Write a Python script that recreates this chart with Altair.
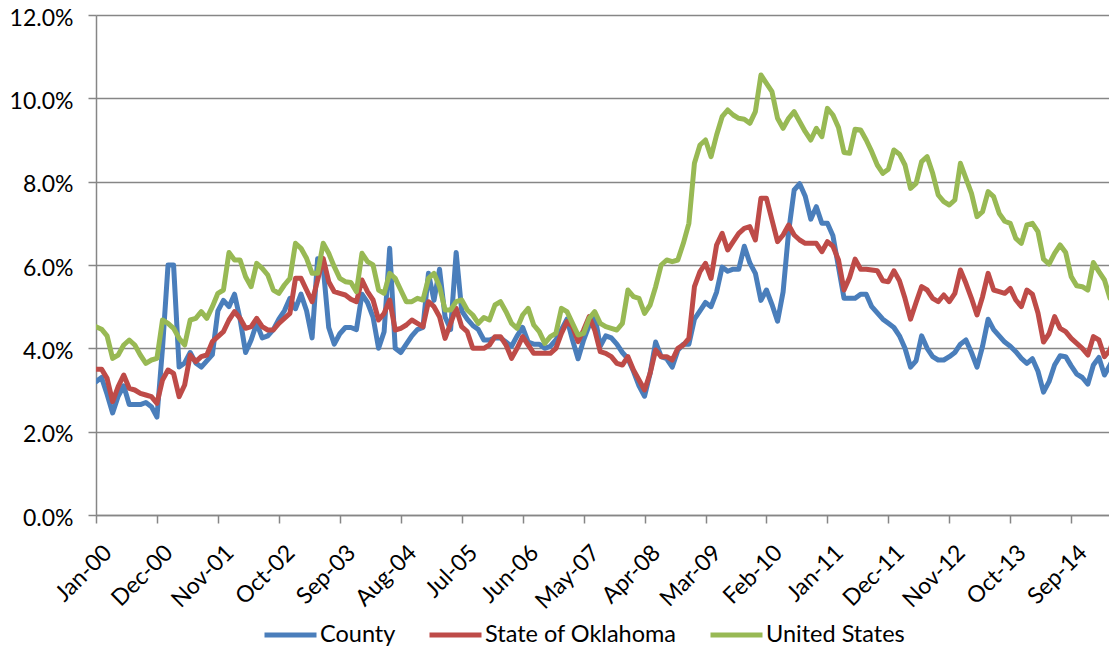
import altair as alt
import pandas as pd

series_names = ["County", "State of Oklahoma", "United States"]
series_colors = ["#4A7EBB", "#BE4B48", "#98B954"]

county = [
    3.2, 3.3, 2.9, 2.45, 2.85, 3.1, 2.65, 2.65, 2.65, 2.7,
    2.6, 2.35, 4.0, 6.0, 6.0, 3.55, 3.65, 3.9, 3.65, 3.55,
    3.7, 3.85, 4.9, 5.15, 5.0, 5.3, 4.7, 3.9, 4.2, 4.6,
    4.25, 4.3, 4.45, 4.7, 4.9, 5.2, 4.95, 5.3, 4.9, 4.25,
    6.15, 5.95, 4.5, 4.1, 4.35, 4.5, 4.5, 4.45, 5.3, 5.1,
    4.75, 4.0, 4.4, 6.4, 4.0, 3.9, 4.1, 4.3, 4.45, 4.5,
    5.8, 5.15, 5.9, 4.75, 4.45, 6.3, 4.9, 4.7, 4.55, 4.45,
    4.2, 4.2, 4.25, 4.25, 4.15, 4.05, 4.3, 4.5, 4.15, 4.1,
    4.1, 4.0, 4.05, 4.2, 4.45, 4.7, 4.2, 3.75, 4.2, 4.55,
    4.8, 4.05, 4.3, 4.25, 4.1, 3.9, 3.75, 3.45, 3.1, 2.85,
    3.4, 4.15, 3.8, 3.75, 3.55, 3.95, 4.1, 4.1, 4.7, 4.9,
    5.1, 5.0, 5.35, 5.95, 5.85, 5.9, 5.9, 6.45, 6.05, 5.8,
    5.15, 5.4, 5.05, 4.65, 5.35, 6.8, 7.8, 7.95, 7.65, 7.1,
    7.4, 7.0, 7.0, 6.7, 5.95, 5.2, 5.2, 5.2, 5.3, 5.3,
    5.0, 4.85, 4.7, 4.6, 4.5, 4.3, 4.0, 3.55, 3.7, 4.3,
    4.0, 3.8, 3.72, 3.72, 3.8, 3.9, 4.1, 4.2, 3.9, 3.55,
    4.05, 4.7, 4.45, 4.3, 4.15, 4.05, 3.92, 3.76, 3.64, 3.75,
    3.45, 2.95, 3.2, 3.6, 3.82, 3.8, 3.58, 3.38, 3.3, 3.14,
    3.6, 3.78, 3.36, 3.6, 3.86,
]

state = [
    3.5, 3.5, 3.28, 2.72, 3.08, 3.36, 3.04, 3.0, 2.92, 2.88,
    2.84, 2.68, 3.24, 3.48, 3.4, 2.84, 3.12, 3.84, 3.68, 3.8,
    3.84, 4.16, 4.28, 4.4, 4.68, 4.88, 4.72, 4.48, 4.52, 4.72,
    4.52, 4.44, 4.44, 4.6, 4.72, 4.84, 5.68, 5.68, 5.4, 5.12,
    5.64, 6.16, 5.6, 5.36, 5.32, 5.28, 5.18, 5.12, 5.64, 5.36,
    5.16, 4.68, 4.84, 5.16, 4.44, 4.48, 4.56, 4.68, 4.6, 4.52,
    5.12, 5.0, 4.76, 4.24, 4.6, 4.96, 4.52, 4.4, 4.0, 4.0,
    4.0, 4.08, 4.28, 4.28, 4.08, 3.76, 4.0, 4.28, 4.08, 3.88,
    3.88, 3.88, 3.88, 4.0, 4.36, 4.64, 4.52, 4.16, 4.44, 4.76,
    4.44, 3.92, 3.88, 3.8, 3.64, 3.6, 3.8, 3.48, 3.24, 3.0,
    3.4, 3.96, 3.8, 3.8, 3.72, 4.0, 4.08, 4.24, 5.48, 5.84,
    6.04, 5.68, 6.48, 6.76, 6.36, 6.56, 6.76, 6.88, 6.92, 6.6,
    7.6, 7.6, 7.08, 6.56, 6.72, 6.96, 6.72, 6.6, 6.52, 6.52,
    6.52, 6.32, 6.56, 6.45, 6.12, 5.4, 5.7, 6.14, 5.9, 5.9,
    5.88, 5.86, 5.62, 5.6, 5.86, 5.62, 5.2, 4.7, 5.1, 5.48,
    5.4, 5.2, 5.12, 5.28, 5.12, 5.32, 5.88, 5.56, 5.2, 4.8,
    5.24, 5.8, 5.4, 5.36, 5.32, 5.44, 5.16, 5.0, 5.4, 5.3,
    4.85, 4.15, 4.35, 4.76, 4.48, 4.4, 4.24, 4.12, 4.0, 3.84,
    4.28, 4.2, 3.8, 3.96, 4.36,
]

united_states = [
    4.52, 4.46, 4.3, 3.76, 3.84, 4.08, 4.2, 4.08, 3.84, 3.64,
    3.72, 3.76, 4.68, 4.6, 4.48, 4.24, 4.08, 4.68, 4.72, 4.88,
    4.72, 5.0, 5.32, 5.4, 6.3, 6.12, 6.12, 5.72, 5.48, 6.04,
    5.92, 5.76, 5.4, 5.32, 5.52, 5.68, 6.52, 6.4, 6.16, 5.8,
    5.8, 6.52, 6.28, 5.96, 5.68, 5.6, 5.58, 5.36, 6.28, 6.08,
    6.0, 5.4, 5.32, 5.8, 5.68, 5.4, 5.12, 5.12, 5.2, 5.16,
    5.68, 5.8, 5.48, 4.92, 4.92, 5.12, 5.16, 4.92, 4.8, 4.6,
    4.74, 4.68, 5.04, 5.12, 4.88, 4.6, 4.48, 4.8, 4.96, 4.56,
    4.4, 4.12, 4.28, 4.36, 4.96, 4.88, 4.6, 4.32, 4.36, 4.72,
    4.88, 4.6, 4.52, 4.48, 4.44, 4.6, 5.4, 5.24, 5.2, 4.84,
    5.04, 5.48, 6.0, 6.12, 6.08, 6.12, 6.52, 7.0, 8.44, 8.88,
    9.0, 8.6, 9.12, 9.56, 9.72, 9.6, 9.52, 9.5, 9.4, 9.68,
    10.56, 10.36, 10.16, 9.52, 9.28, 9.52, 9.68, 9.44, 9.2, 9.0,
    9.28, 9.08, 9.76, 9.6, 9.3, 8.7, 8.68, 9.26, 9.24, 9.0,
    8.72, 8.4, 8.2, 8.3, 8.76, 8.66, 8.4, 7.84, 7.96, 8.48,
    8.6, 8.2, 7.68, 7.52, 7.44, 7.56, 8.44, 8.08, 7.72, 7.16,
    7.28, 7.76, 7.64, 7.24, 7.05, 7.0, 6.64, 6.52, 6.96, 7.0,
    6.8, 6.14, 6.02, 6.28, 6.48, 6.3, 5.72, 5.5, 5.48, 5.4,
    6.06, 5.84, 5.64, 5.2, 5.24,
]

tick_labels = ["Jan-00", "Dec-00", "Nov-01", "Oct-02", "Sep-03", "Aug-04",
               "Jul-05", "Jun-06", "May-07", "Apr-08", "Mar-09", "Feb-10",
               "Jan-11", "Dec-11", "Nov-12", "Oct-13", "Sep-14"]
tick_step = 11
y_ticks = [0, 2, 4, 6, 8, 10, 12]

rows = []
for name, vals in zip(series_names, [county, state, united_states]):
    for i, v in enumerate(vals):
        rows.append({"m": i, "v": v, "s": name})
df = pd.DataFrame(rows)

FONT = "Lato"
GRAY = "#868686"
PLOT_W = 1013
PX_PER_MONTH = 5.541

label_array = "[" + ",".join("'%s'" % t for t in tick_labels) + "]"
tick_values = [i * tick_step for i in range(len(tick_labels))]

x_enc = alt.X(
    "m:Q",
    scale=alt.Scale(domain=[0, PLOT_W / PX_PER_MONTH], nice=False, zero=False),
    axis=alt.Axis(
        values=tick_values,
        labelExpr=label_array + "[round(datum.value/%d)]" % tick_step,
        labelAngle=-45, labelAlign="right", labelBaseline="top",
        labelPadding=18, labelOffset=4, tickSize=8,
        labelFontSize=23, labelFont=FONT, labelColor="#000000",
        grid=False, labelOverlap=False, labelFlush=False, labelBound=False,
    ),
    title=None,
)
y_enc = alt.Y(
    "v:Q",
    scale=alt.Scale(domain=[0, 12], nice=False),
    axis=alt.Axis(
        values=y_ticks,
        labelExpr="format(datum.value, '.1f') + '%'",
        tickSize=8, labelPadding=15, labelOffset=3,
        labelFontSize=23, labelFont=FONT, labelColor="#000000",
        grid=True,
    ),
    title=None,
)
color_enc = alt.Color(
    "s:N",
    scale=alt.Scale(domain=series_names, range=series_colors),
    legend=alt.Legend(
        orient="none", legendX=166, legendY=591.5, direction="horizontal",
        title=None, symbolType="stroke", symbolSize=2704, symbolStrokeWidth=5,
        labelFontSize=23.5, labelFont=FONT, labelColor="#000000", labelLimit=0,
        columnPadding=23, labelOffset=1, padding=0,
    ),
)

layers = []
for name in series_names:
    layers.append(
        alt.Chart(df)
        .transform_filter(alt.datum.s == name)
        .mark_line(strokeWidth=5, strokeJoin="round", strokeCap="round", clip=True)
        .encode(x=x_enc, y=y_enc, color=color_enc)
    )

chart = (
    alt.layer(*layers)
    .properties(
        width=PLOT_W, height=500,
        autosize=alt.AutoSizeParams(type="none"),
        padding={"left": 88, "top": 7, "right": 0, "bottom": 132},
    )
    .configure_view(stroke=None)
    .configure_axis(
        domainColor=GRAY, domainWidth=1.5, tickColor=GRAY, tickWidth=1.5,
        gridColor=GRAY, gridWidth=1.5,
    )
)

chart.save("out.html", embed_options={"renderer": "svg", "actions": False})
